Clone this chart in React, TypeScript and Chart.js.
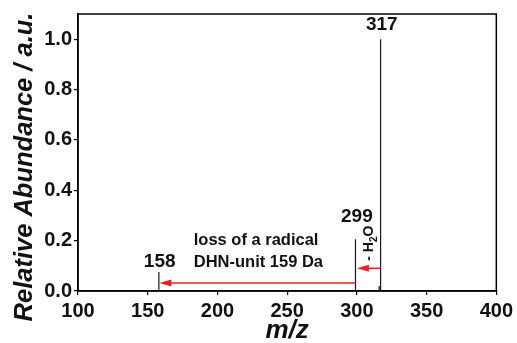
import { useEffect, useRef } from 'react';
import { Chart, registerables } from 'chart.js';

Chart.register(...registerables);

const peakMz = [158, 299, 316, 317];
const peakAbundance = [0.075, 0.206, 0.02, 1.0];
const labelText = ['158', '299', '317'];
const labelMz = [158.6, 300, 317.9];
const labelLevel = [0.115, 0.294, 1.056];
const xTicks = [100, 150, 200, 250, 300, 350, 400];
const yTicks = [0, 0.2, 0.4, 0.6, 0.8, 1.0];
const arrowFrom = [299, 317];
const arrowTo = [158.3, 300];
const arrowLevel = [0.032, 0.09];
const noteLines = ['loss of a radical', 'DHN-unit 159 Da'];
const noteMz = 183;
const noteLevel = [0.202, 0.115];
const waterMz = 308.6;
const waterLevel = 0.19;
const yTitle = 'Relative Abundance / a.u.';

const FONT = '"Liberation Sans", Arial, Helvetica, sans-serif';

const annotate = {
  id: 'annotate',
  afterDatasetsDraw(chart: any) {
    const { ctx, chartArea, scales } = chart;
    const x = scales.x;
    const y = scales.y;
    ctx.save();
    // frame
    ctx.strokeStyle = '#000';
    ctx.lineWidth = 1.5;
    ctx.strokeRect(chartArea.left, chartArea.top, chartArea.right - chartArea.left, chartArea.bottom - chartArea.top);

    // arrows
    ctx.strokeStyle = '#e8202a';
    ctx.fillStyle = '#e8202a';
    ctx.lineWidth = 1.6;
    arrowFrom.forEach((f, i) => {
      const x0 = x.getPixelForValue(f);
      const x1 = x.getPixelForValue(arrowTo[i]);
      const yy = y.getPixelForValue(arrowLevel[i]);
      ctx.beginPath();
      ctx.moveTo(x0, yy);
      ctx.lineTo(x1 + 8, yy);
      ctx.stroke();
      ctx.beginPath();
      ctx.moveTo(x1, yy);
      ctx.lineTo(x1 + 12, yy - 3.5);
      ctx.lineTo(x1 + 12, yy + 3.5);
      ctx.closePath();
      ctx.fill();
    });

    // peak labels
    ctx.fillStyle = '#111';
    ctx.textAlign = 'center';
    ctx.textBaseline = 'middle';
    ctx.font = `bold 19px ${FONT}`;
    labelText.forEach((t, i) => {
      ctx.fillText(t, x.getPixelForValue(labelMz[i]), y.getPixelForValue(labelLevel[i]));
    });

    // note
    ctx.textAlign = 'left';
    ctx.font = `bold 16.5px ${FONT}`;
    noteLines.forEach((t, i) => {
      ctx.fillText(t, x.getPixelForValue(noteMz), y.getPixelForValue(noteLevel[i]));
    });

    // y title
    ctx.save();
    ctx.translate(25, 167);
    ctx.rotate(-Math.PI / 2);
    ctx.textAlign = 'center';
    ctx.textBaseline = 'middle';
    ctx.font = `italic bold 25.5px ${FONT}`;
    ctx.fillText(yTitle, 0, 0);
    ctx.restore();

    // - H2O rotated
    const cx = x.getPixelForValue(waterMz);
    const cy = y.getPixelForValue(waterLevel);
    ctx.translate(cx, cy);
    ctx.rotate(-Math.PI / 2);
    const big = `bold 14px ${FONT}`;
    const small = `bold 10px ${FONT}`;
    ctx.font = big;
    const w1 = ctx.measureText('- H').width;
    const w3 = ctx.measureText('O').width;
    ctx.font = small;
    const w2 = ctx.measureText('2').width;
    const total = w1 + w2 + w3;
    let px = -total / 2;
    ctx.textAlign = 'left';
    ctx.textBaseline = 'middle';
    ctx.font = big;
    ctx.fillText('- H', px, 0);
    px += w1;
    ctx.font = small;
    ctx.fillText('2', px, 5);
    px += w2;
    ctx.font = big;
    ctx.fillText('O', px, 0);
    ctx.restore();
  },
};

export default function App() {
  const ref = useRef<HTMLCanvasElement | null>(null);

  useEffect(() => {
    document.body.style.margin = '0';
    const canvas = ref.current;
    if (!canvas) return;
    const datasets = peakMz.map((mz, i) => ({
      data: [
        { x: mz, y: 0 },
        { x: mz, y: peakAbundance[i] },
      ],
      borderColor: '#1a1a1a',
      borderWidth: 1.2,
      pointRadius: 0,
      fill: false,
      tension: 0,
    }));
    const chart = new Chart(canvas, {
      type: 'line',
      data: { datasets },
      plugins: [annotate],
      options: {
        animation: false,
        responsive: true,
        maintainAspectRatio: false,
        layout: { padding: { top: 13, right: 20, left: 0, bottom: 0 } },
        plugins: { legend: { display: false }, tooltip: { enabled: false } },
        scales: {
          x: {
            type: 'linear',
            min: 100,
            max: 400,
            afterBuildTicks: (s: any) => {
              s.ticks = xTicks.map((v) => ({ value: v }));
            },
            afterFit: (s: any) => {
              s.height = 52;
            },
            grid: { drawOnChartArea: false, drawTicks: true, tickLength: 4, color: '#000', lineWidth: 1.2 },
            border: { display: true, color: '#000', width: 1.5 },
            ticks: {
              color: '#111',
              padding: 4,
              maxRotation: 0,
              autoSkip: false,
              font: { family: FONT, size: 20, weight: 'bold' },
              callback: (v: any) => String(v),
            },
            title: {
              display: true,
              text: 'm/z',
              color: '#111',
              padding: { top: 0, bottom: 0 },
              font: { family: FONT, size: 26, weight: 'bold', style: 'italic', lineHeight: 0.9 },
            },
          },
          y: {
            type: 'linear',
            min: 0,
            max: 1.1,
            afterBuildTicks: (s: any) => {
              s.ticks = yTicks.map((v) => ({ value: v }));
            },
            afterFit: (s: any) => {
              s.width = 78;
            },
            grid: { drawOnChartArea: false, drawTicks: true, tickLength: 4, color: '#000', lineWidth: 1.2 },
            border: { display: true, color: '#000', width: 1.5 },
            ticks: {
              color: '#111',
              padding: 2,
              autoSkip: false,
              font: { family: FONT, size: 20, weight: 'bold' },
              callback: (v: any) => Number(v).toFixed(1),
            },
          },
        },
      },
    });
    return () => chart.destroy();
  }, []);

  return (
    <div style={{ position: 'relative', width: 517, height: 343 }}>
      <canvas ref={ref} />
    </div>
  );
}
